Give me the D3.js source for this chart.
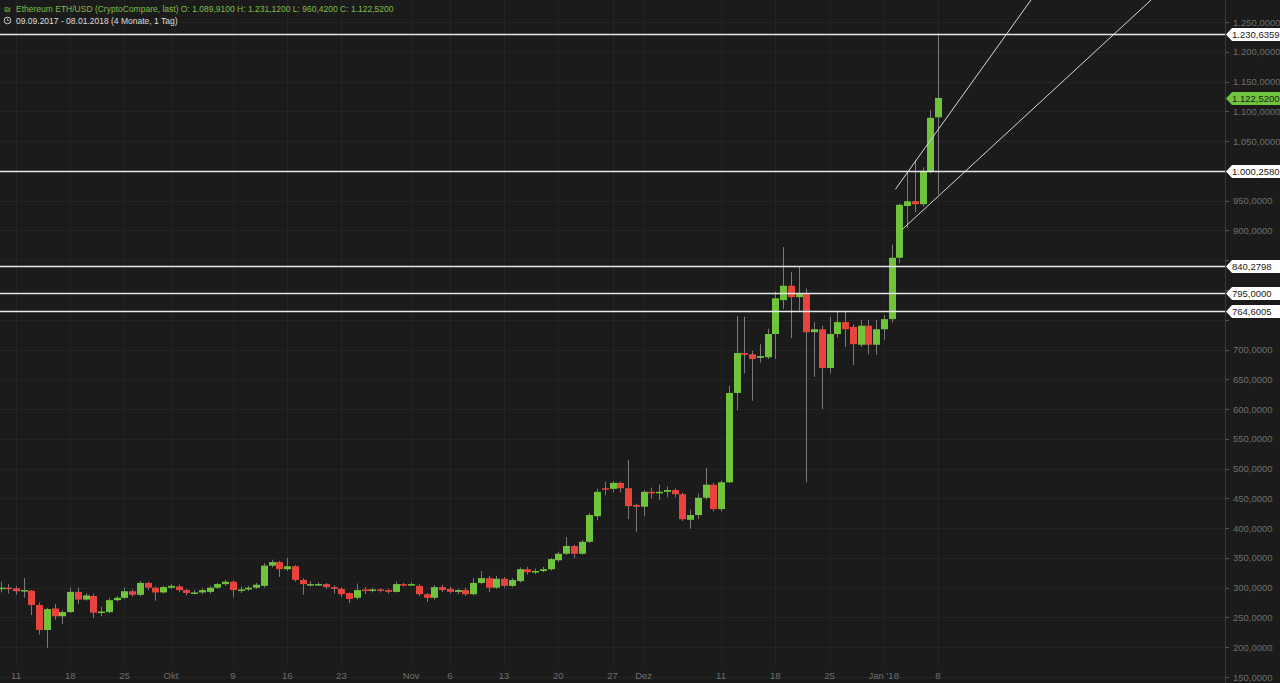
<!DOCTYPE html>
<html>
<head>
<meta charset="utf-8">
<script src="https://cdn.jsdelivr.net/npm/d3@7"></script>
<style>
  body { margin: 0; background: #1b1b1b; }
  svg { display: block; font-family: "Liberation Sans", Arial, sans-serif; }
</style>
</head>
<body>
<svg id="chart" width="1280" height="683"></svg>
<script>
// daily candles, 09.09.2017 - 08.01.2018
let opens = [298,300,299,294,295,271,229,265,252,259,293,280,286,258,259,279,283,294,288,308,300,292,300,302,296,291,292,
  293,300,306,310,296,297,300,303,337,343,331,336,313,306,306,306,301,298,291,283,297,296,297,296,293,306,305,303,289,283,
  301,298,293,296,289,308,316,300,315,303,311,331,327,328,331,346,357,370,357,377,420,467,466,476,467,439,436,461,459,461,464,
  457,414,422,451,473,432,477,627,694,692,686,687,726,783,807,788,793,729,734,669,726,746,738,708,740,708,734,751,854,941,949,944,999,1089.91];
let closes = [300,299,294,296,271,229,264,252,259,293,280,287,258,260,279,283,294,288,308,300,292,301,303,296,291,292,296,
  300,306,310,296,297,300,305,337,343,331,336,313,306,306,306,301,298,289,281,296,296,297,296,293,306,305,306,289,283,301,
  296,293,296,289,308,316,300,315,303,313,331,326,328,331,348,357,370,357,377,422,461,466,476,467,437,436,461,459,461,464,457,
  415,422,451,473,432,477,627,694,691,684,689,726,786,807,788,793,729,734,669,726,746,734,709,740,708,734,751,854,943,949,944,1000,1089,1122.52];
let highs = [310,306,303,316,296,275,266,273,262,300,300,291,290,268,283,286,300,297,311,310,302,303,306,305,298,296,299,
  303,308,313,312,302,303,308,341,347,345,350,338,316,311,309,308,304,301,292,307,301,300,299,298,310,308,309,306,291,304,
  305,302,298,300,316,328,320,320,318,316,334,335,332,335,350,360,385,372,380,425,466,478,479,478,515,441,464,468,473,470,467,
  460,431,458,501,476,480,639,756,755,698,709,735,797,872,830,840,802,746,740,755,763,765,742,750,750,750,758,876,945,998,1018,1006,1102,1231.12];
let lows = [292,290,288,283,254,221,199,246,239,258,273,278,249,252,257,277,281,285,286,296,278,290,298,293,287,289,289,
  290,298,303,284,291,295,298,300,334,318,328,310,288,302,303,298,290,284,274,280,289,292,292,290,292,302,303,286,276,280,
  293,290,289,286,287,306,293,298,300,301,309,322,323,326,329,343,355,350,355,375,413,455,460,460,415,394,420,450,447,452,452,
  412,399,415,448,428,428,476,598,660,614,678,684,684,768,719,765,477,654,600,660,720,704,674,704,692,691,716,745,845,904,931,940,996,960.42];

let levels = [1230.6359, 1000.258, 840.2798, 795, 764.6005];
let lastPrice = 1122.52;
let trendLines = [
  [["2018-01-02T12:00", 969], ["2018-01-20T00:00", 1287]],
  [["2018-01-03T10:00", 902], ["2018-02-04T12:00", 1287]]
];
let yTicks = d3.range(150, 1251, 50);
let xTickDates = ["2017-09-11","2017-09-18","2017-09-25","2017-10-01","2017-10-09","2017-10-16","2017-10-23","2017-11-01",
  "2017-11-06","2017-11-13","2017-11-20","2017-11-27","2017-12-01","2017-12-11","2017-12-18","2017-12-25","2018-01-01","2018-01-08"];
let xTickLabels = ["11","18","25","Okt","9","16","23","Nov","6","13","20","27","Dez","11","18","25","Jan '18","8"];

let start = new Date(2017, 8, 9);
let candles = opens.map((o, i) => ({
  date: d3.timeDay.offset(start, i),
  o: o, h: highs[i], l: lows[i], c: closes[i]
}));

let de = d3.formatLocale({ decimal: ",", thousands: ".", grouping: [3], currency: ["", "€"] });
let fmt = de.format(",.4f");

let svg = d3.select("#chart");
let W = 1280, H = 683, plotRight = 1225;

let x = d3.scaleTime()
  .domain([new Date(2017, 8, 11), new Date(2018, 0, 8)])
  .range([16, 938]);
let y = d3.scaleLinear().domain([150, 1250]).range([677, 22]);

svg.append("rect").attr("width", W).attr("height", H).attr("fill", "#1b1b1b");

svg.append("clipPath").attr("id", "plot")
  .append("rect").attr("width", plotRight).attr("height", H);

// grid
svg.append("g").selectAll("line").data(yTicks).join("line")
  .attr("x1", 0).attr("x2", plotRight)
  .attr("y1", d => Math.round(y(d)) + 0.5).attr("y2", d => Math.round(y(d)) + 0.5)
  .attr("stroke", "#242424");
svg.append("g").selectAll("line").data(xTickDates).join("line")
  .attr("x1", d => Math.round(x(new Date(d + "T00:00"))) + 0.5)
  .attr("x2", d => Math.round(x(new Date(d + "T00:00"))) + 0.5)
  .attr("y1", 0).attr("y2", 665)
  .attr("stroke", "#242424");

svg.append("line").attr("x1", plotRight + 0.5).attr("x2", plotRight + 0.5)
  .attr("y1", 0).attr("y2", H).attr("stroke", "#3a3a3a");

// candles
let cg = svg.append("g").attr("clip-path", "url(#plot)");
cg.selectAll("line.wick").data(candles).join("line")
  .attr("class", "wick")
  .attr("x1", d => Math.round(x(d.date)) + 0.5).attr("x2", d => Math.round(x(d.date)) + 0.5)
  .attr("y1", d => y(d.h)).attr("y2", d => y(d.l))
  .attr("stroke", "#7a7a7a");
cg.selectAll("rect.body").data(candles).join("rect")
  .attr("class", "body")
  .attr("x", d => Math.round(x(d.date)) - 3)
  .attr("width", 7)
  .attr("y", d => y(Math.max(d.o, d.c)))
  .attr("height", d => Math.max(1.5, Math.abs(y(d.o) - y(d.c))))
  .attr("fill", d => d.c >= d.o ? "#6fc43c" : "#e8433c");

// levels
svg.append("g").selectAll("line").data(levels).join("line")
  .attr("x1", 0).attr("x2", plotRight)
  .attr("y1", d => Math.round(y(d)) + 0.5).attr("y2", d => Math.round(y(d)) + 0.5)
  .attr("stroke", "#e8e8e8").attr("stroke-width", 1.3);

// trend lines
let tl = d3.line().x(d => x(new Date(d[0]))).y(d => y(d[1]));
cg.selectAll("path.trend").data(trendLines).join("path")
  .attr("class", "trend")
  .attr("d", tl).attr("fill", "none")
  .attr("stroke", "#d8d8d8").attr("stroke-width", 1);

// y axis labels (those hidden behind a price tag are skipped)
let tagValues = levels.concat([lastPrice]);
let visibleTicks = yTicks.filter(t => tagValues.every(v => Math.abs(y(t) - y(v)) > 11));
svg.append("g").selectAll("text").data(visibleTicks).join("text")
  .attr("x", 1233).attr("y", d => y(d) + 3.5)
  .attr("font-size", 9.5).attr("fill", "#6e6e6e")
  .text(d => fmt(d));
svg.append("g").selectAll("line").data(yTicks).join("line")
  .attr("x1", plotRight).attr("x2", plotRight + 4)
  .attr("y1", d => Math.round(y(d)) + 0.5).attr("y2", d => Math.round(y(d)) + 0.5)
  .attr("stroke", "#555");

// price tags
function tag(v, fill, color) {
  let yy = Math.round(y(v)) + 0.5;
  let g = svg.append("g");
  g.append("path")
    .attr("d", `M${plotRight + 1},${yy} L${plotRight + 7},${yy - 6.5} L1280,${yy - 6.5} L1280,${yy + 6.5} L${plotRight + 7},${yy + 6.5} Z`)
    .attr("fill", fill);
  g.append("text").attr("x", 1232).attr("y", yy + 3.5)
    .attr("font-size", 9.5).attr("fill", color).text(fmt(v));
}
levels.forEach(v => tag(v, "#ffffff", "#222"));
tag(lastPrice, "#6fc43c", "#1b1b1b");

// x axis
svg.append("g").selectAll("text").data(xTickDates).join("text")
  .attr("x", d => x(new Date(d + "T00:00")))
  .attr("y", 679).attr("text-anchor", "middle")
  .attr("font-size", 9.5).attr("fill", "#6e6e6e")
  .text((d, i) => xTickLabels[i]);

// header
svg.append("text").attr("x", 16).attr("y", 12)
  .attr("font-size", 8.5).attr("fill", "#7cbf44")
  .text("Ethereum ETH/USD (CryptoCompare, last)   O: 1.089,9100   H: 1.231,1200   L: 960,4200   C: 1.122,5200");
svg.append("text").attr("x", 4).attr("y", 12)
  .attr("font-size", 8).attr("fill", "#7cbf44").text("₪");
svg.append("circle").attr("cx", 7.5).attr("cy", 20.5).attr("r", 3.3)
  .attr("fill", "none").attr("stroke", "#ccc");
svg.append("path").attr("d", "M7.5,18.5 V20.5 H9").attr("fill", "none").attr("stroke", "#ccc").attr("stroke-width", 0.8);
svg.append("text").attr("x", 16).attr("y", 24)
  .attr("font-size", 8.5).attr("fill", "#dddddd")
  .text("09.09.2017 - 08.01.2018   (4 Monate, 1 Tag)");
</script>
</body>
</html>
